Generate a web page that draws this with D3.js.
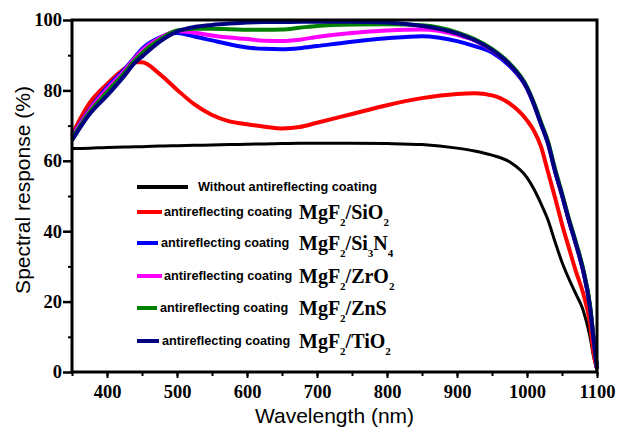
<!doctype html>
<html lang="en">
<head>
<meta charset="utf-8">
<title>Spectral response</title>
<script src="https://d3js.org/d3.v7.min.js"></script>
<style>
  body { margin: 0; background: #fff; }
  .tick text { font-family: "Liberation Serif", "Times New Roman", serif; font-weight: bold; font-size: 18.5px; fill: #000; }
  .title { font-family: "Liberation Sans", Arial, sans-serif; font-size: 21px; fill: #000; }
  .leg { font-family: "Liberation Sans", Arial, sans-serif; font-weight: bold; font-size: 12.7px; fill: #000; }
  .formula { font-family: "Liberation Serif", "Times New Roman", serif; font-weight: bold; font-size: 20px; fill: #000; }
</style>
</head>
<body>
<div id="chart"></div>
<script>
// wavelength grid (nm)
const wavelength = [350, 375, 400, 425, 440, 450, 475, 500, 525, 550, 575, 600, 625, 650, 675, 700, 750, 800, 850, 900,
                    925, 950, 975, 1000, 1010, 1020, 1030, 1040, 1050, 1060, 1070, 1080, 1090, 1095, 1100];

// spectral response (%)
const noCoating = [63.5, 63.6, 63.8, 63.9, 64.0, 64.0, 64.2, 64.3, 64.4, 64.5, 64.6, 64.7, 64.8, 64.9, 65.0, 65.0, 65.0, 64.9, 64.6, 63.6,
                   62.8, 61.6, 59.7, 55.2, 51.9, 47.8, 43.2, 37.0, 31.2, 26.4, 22.1, 17.7, 10.0, 4.5, 0.5];
const sio2 = [67.5, 76.4, 81.8, 86.2, 88.0, 88.0, 84.7, 80.2, 76.0, 73.0, 71.2, 70.4, 69.7, 69.2, 69.6, 70.8, 73.3, 75.8, 77.8, 79.0,
              79.2, 78.6, 76.3, 71.5, 68.5, 64.0, 56.8, 49.6, 42.0, 35.2, 28.5, 22.5, 13.8, 5.5, 1.0];
const si3n4 = [67.0, 74.6, 80.9, 86.0, 89.5, 91.8, 95.0, 96.3, 95.3, 94.2, 93.1, 92.2, 91.8, 91.7, 92.0, 92.6, 93.8, 94.8, 95.4, 94.0,
               92.6, 90.8, 87.0, 80.5, 75.9, 70.4, 64.9, 57.1, 50.2, 42.9, 36.2, 28.9, 18.4, 9.4, 1.0];
const zro2 = [66.8, 74.3, 80.3, 85.6, 89.2, 91.3, 94.8, 96.8, 96.4, 95.6, 95.0, 94.6, 94.1, 94.0, 94.4, 95.2, 96.3, 97.0, 97.3, 95.8,
              94.2, 91.4, 87.4, 80.7, 76.1, 70.6, 65.1, 57.3, 50.4, 43.1, 36.4, 29.1, 18.6, 9.6, 1.0];
const zns = [66.3, 73.8, 79.5, 85.0, 88.6, 90.6, 94.4, 97.0, 97.5, 97.5, 97.4, 97.2, 97.2, 97.3, 97.8, 98.3, 98.7, 98.8, 98.5, 96.5,
             94.6, 91.8, 87.7, 81.0, 76.4, 71.0, 65.5, 57.8, 50.8, 43.5, 36.8, 29.5, 19.0, 10.0, 1.0];
const tio2 = [65.8, 73.2, 78.5, 84.2, 87.9, 89.6, 93.8, 96.7, 98.0, 98.6, 99.0, 99.3, 99.4, 99.4, 99.5, 99.5, 99.5, 99.3, 98.3, 96.2,
              94.3, 91.5, 87.4, 80.7, 76.0, 70.5, 65.0, 57.2, 50.3, 43.0, 36.3, 29.0, 18.5, 9.5, 1.0];

const xTicks = [400, 500, 600, 700, 800, 900, 1000, 1100];
const yTicks = [0, 20, 40, 60, 80, 100];

const W = 617, H = 427;
const margin = { top: 20, right: 20, bottom: 55, left: 72 };

const svg = d3.select('#chart').append('svg')
  .attr('width', W)
  .attr('height', H);

const x = d3.scaleLinear().domain([350, 1100]).range([margin.left, W - margin.right]);
const y = d3.scaleLinear().domain([0, 100]).range([H - margin.bottom, margin.top]);

const series = [
  { values: noCoating, color: '#000000', width: 3, formula: null },
  { values: sio2, color: '#ff0000', width: 4, formula: [['MgF'], ['2', 1], ['/SiO'], ['2', 1]] },
  { values: si3n4, color: '#0000ff', width: 4, formula: [['MgF'], ['2', 1], ['/Si'], ['3', 1], ['N'], ['4', 1]] },
  { values: zro2, color: '#ff00ff', width: 4, formula: [['MgF'], ['2', 1], ['/ZrO'], ['2', 1]] },
  { values: zns, color: '#008000', width: 4, formula: [['MgF'], ['2', 1], ['/ZnS']] },
  { values: tio2, color: '#000080', width: 4, formula: [['MgF'], ['2', 1], ['/TiO'], ['2', 1]] }
];

const line = d3.line()
  .x(function(d, i) { return x(wavelength[i]); })
  .y(function(d) { return y(d); })
  .curve(d3.curveMonotoneX);

svg.append('g')
  .selectAll('path')
  .data(series)
  .enter()
  .append('path')
    .attr('fill', 'none')
    .attr('stroke', function(d) { return d.color; })
    .attr('stroke-width', function(d) { return d.width; })
    .attr('stroke-linejoin', 'round')
    .attr('d', function(d) { return line(d.values); });

// minor ticks
svg.append('g')
  .attr('transform', 'translate(0,' + y(0) + ')')
  .call(d3.axisBottom(x).tickValues(d3.range(350, 1101, 50)).tickSize(4).tickFormat(''))
  .call(function(g) { g.select('.domain').remove(); g.selectAll('line').attr('stroke-width', 2); });
svg.append('g')
  .attr('transform', 'translate(' + x(350) + ',0)')
  .call(d3.axisLeft(y).tickValues(d3.range(10, 100, 20)).tickSize(4).tickFormat(''))
  .call(function(g) { g.select('.domain').remove(); g.selectAll('line').attr('stroke-width', 2); });

// major axes
svg.append('g')
  .attr('transform', 'translate(0,' + y(0) + ')')
  .call(d3.axisBottom(x).tickValues(xTicks).tickSize(6).tickSizeOuter(0).tickPadding(7).tickFormat(d3.format('d')))
  .call(function(g) { g.select('.domain').remove(); g.selectAll('line').attr('stroke-width', 2); });
svg.append('g')
  .attr('transform', 'translate(' + x(350) + ',0)')
  .call(d3.axisLeft(y).tickValues(yTicks).tickSize(9).tickSizeOuter(0).tickPadding(1))
  .call(function(g) { g.select('.domain').remove(); g.selectAll('line').attr('stroke-width', 2.5); });

// frame
svg.append('rect')
  .attr('x', x(350))
  .attr('y', y(100))
  .attr('width', x(1100) - x(350))
  .attr('height', y(0) - y(100))
  .attr('fill', 'none')
  .attr('stroke', '#000')
  .attr('stroke-width', 3);

// axis titles
svg.append('text')
  .attr('class', 'title')
  .attr('x', (x(350) + x(1100)) / 2)
  .attr('y', 423)
  .attr('text-anchor', 'middle')
  .text('Wavelength (nm)');

svg.append('text')
  .attr('class', 'title')
  .attr('transform', 'translate(30,' + 190 + ') rotate(-90)')
  .attr('text-anchor', 'middle')
  .text('Spectral response (%)');

// legend
const legendRows = [
  { y: 187, x2: 188, tx: 198 },
  { y: 212, x2: 162, tx: 164 },
  { y: 243, x2: 158, tx: 161 },
  { y: 276, x2: 162, tx: 164 },
  { y: 308, x2: 157, tx: 160 },
  { y: 341, x2: 159, tx: 162 }
];

const legend = svg.append('g');
series.forEach(function(s, i) {
  const r = legendRows[i];
  legend.append('line')
    .attr('x1', 137).attr('x2', r.x2)
    .attr('y1', r.y).attr('y2', r.y)
    .attr('stroke', s.color)
    .attr('stroke-width', 4);
  legend.append('text')
    .attr('class', 'leg')
    .attr('x', r.tx)
    .attr('y', r.y + 4)
    .text(s.formula ? 'antireflecting coating' : 'Without antireflecting coating');
  if (s.formula) {
    const t = legend.append('text')
      .attr('class', 'formula')
      .attr('x', 299)
      .attr('y', r.y + 7);
    let low = false;
    s.formula.forEach(function(p) {
      const sub = !!p[1];
      const ts = t.append('tspan').text(p[0]);
      if (sub && !low) ts.attr('dy', 7);
      if (!sub && low) ts.attr('dy', -7);
      if (sub) ts.style('font-size', '11px');
      low = sub;
    });
  }
});
</script>
</body>
</html>
